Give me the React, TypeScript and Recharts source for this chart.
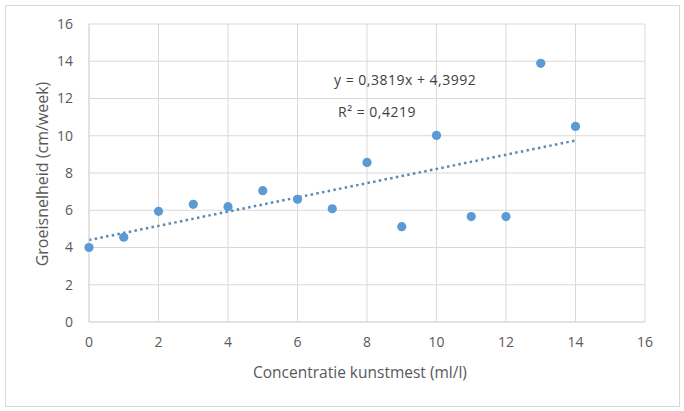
import React from 'react'
import { ComposedChart, Scatter, Line, XAxis, YAxis, CartesianGrid } from 'recharts'

// Meetpunten: concentratie kunstmest (ml/l) en groeisnelheid (cm/week)
const concentrations = [0, 1, 2, 3, 4, 5, 6, 7, 8, 9, 10, 11, 12, 13, 14]
const growthRates = [4.0, 4.55, 5.94, 6.32, 6.19, 7.05, 6.59, 6.08, 8.57, 5.12, 10.02, 5.66, 5.66, 13.89, 10.5]

const xTicks = [0, 2, 4, 6, 8, 10, 12, 14, 16]
const yTicks = [0, 2, 4, 6, 8, 10, 12, 14, 16]

// Trendline from the equation shown on the chart
const SLOPE = 0.3819
const INTERCEPT = 4.3992
const equationLabel = 'y = 0,3819x + 4,3992'
const rSquaredLabel = 'R² = 0,4219'

const points = concentrations.map((x, i) => ({ x, y: growthRates[i] }))
const trendX = [concentrations[0], concentrations[concentrations.length - 1]]
const trend = trendX.map((x) => ({ x, y: SLOPE * x + INTERCEPT }))

const GRID = '#d9d9d9'
const TEXT = '#595959'
const DOT = '#5b9bd5'

const Dot = (props: { cx?: number; cy?: number }) => {
  if (props.cx == null || props.cy == null) return null
  return <circle cx={props.cx} cy={props.cy} r={4.6} fill={DOT} />
}

export default function App() {
  const tick = { fill: TEXT, fontSize: 14, fontFamily: 'Open Sans' }
  return (
    <div style={{ position: 'relative', width: 684, height: 411, background: '#fff', fontFamily: 'Open Sans' }}>
      <style>{'body{margin:0}'}</style>
      <div
        style={{
          position: 'absolute',
          left: 5,
          top: 5,
          width: 673,
          height: 400,
          border: `1px solid ${GRID}`,
        }}
      />
      <ComposedChart width={684} height={411} margin={{ top: 24, right: 39, left: 0, bottom: 49 }}>
        <CartesianGrid stroke={GRID} />
        <XAxis
          type="number"
          dataKey="x"
          domain={[0, 16]}
          ticks={xTicks}
          height={40}
          tick={tick}
          tickLine={false}
          tickSize={0}
          tickMargin={15}
          axisLine={{ stroke: GRID }}
        />
        <YAxis
          type="number"
          dataKey="y"
          domain={[0, 16]}
          ticks={yTicks}
          width={89}
          tick={tick}
          tickLine={false}
          tickSize={0}
          tickMargin={16}
          axisLine={{ stroke: GRID }}
        />
        <Line
          data={trend}
          dataKey="y"
          stroke="#5a8ab4"
          strokeWidth={2.5}
          strokeDasharray="2.5 3.3"
          dot={false}
          activeDot={false}
          isAnimationActive={false}
        />
        <Scatter data={points} dataKey="y" shape={<Dot />} isAnimationActive={false} />
      </ComposedChart>
      <div style={{ position: 'absolute', left: 334, top: 70, fontSize: 14, color: '#404040', letterSpacing: 0.5, whiteSpace: 'nowrap' }}>
        {equationLabel}
      </div>
      <div style={{ position: 'absolute', left: 338, top: 102, fontSize: 14, color: '#404040', letterSpacing: 0.5, whiteSpace: 'nowrap' }}>
        {rSquaredLabel}
      </div>
      <div
        style={{
          position: 'absolute',
          left: 0,
          width: 684,
          top: 361,
          textAlign: 'center',
          paddingLeft: 50,
          boxSizing: 'border-box',
          fontSize: 15.5,
          color: TEXT,
          whiteSpace: 'nowrap',
        }}
      >
        <span style={{ position: 'absolute', left: 253, top: 0 }}>Concentratie kunstmest (ml/l)</span>
      </div>
      <div
        style={{
          position: 'absolute',
          left: 41.5,
          top: 174,
          transform: 'translate(-50%, -50%) rotate(-90deg)',
          fontSize: 16,
          color: TEXT,
          whiteSpace: 'nowrap',
        }}
      >
        Groeisnelheid (cm/week)
      </div>
    </div>
  )
}
